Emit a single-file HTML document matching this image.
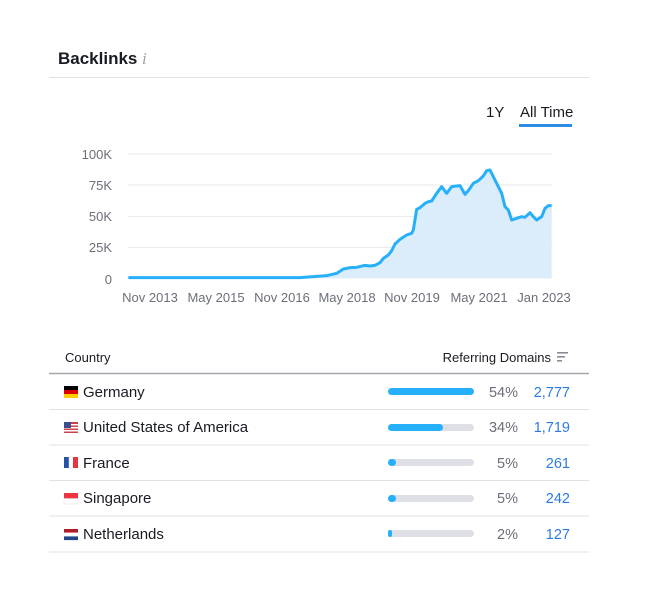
<!DOCTYPE html>
<html><head><meta charset="utf-8"><style>
body{margin:0;background:#fff;width:649px;height:590px;overflow:hidden;font-family:"Liberation Sans",sans-serif}
</style></head><body>
<svg width="649" height="590" xmlns="http://www.w3.org/2000/svg" font-family="Liberation Sans, sans-serif">
<text x="58" y="64" font-size="17" font-weight="bold" fill="#191b23">Backlinks</text>
<text x="142" y="64" font-size="17" fill="#a0a3ab" font-style="italic" font-family="Liberation Serif, serif">i</text>
<line x1="49" y1="77.5" x2="589" y2="77.5" stroke="#e0e1e6"/>
<text x="486" y="117" font-size="15" fill="#191b23">1Y</text>
<text x="520" y="117" font-size="15" fill="#191b23">All Time</text>
<rect x="519" y="124" width="53" height="3" fill="#2c8ce6"/>
<g stroke="#e8eaee" stroke-width="1">
<line x1="128" y1="154" x2="552" y2="154"/><line x1="128" y1="185" x2="552" y2="185"/>
<line x1="128" y1="216.5" x2="552" y2="216.5"/><line x1="128" y1="247.5" x2="552" y2="247.5"/>
</g>
<g font-size="13" fill="#6c6e79" text-anchor="end">
<text x="112" y="159">100K</text><text x="112" y="190">75K</text><text x="112" y="221">50K</text><text x="112" y="252">25K</text><text x="112" y="284">0</text>
</g>
<g font-size="13" fill="#6c6e79" text-anchor="middle">
<text x="150" y="302">Nov 2013</text><text x="216" y="302">May 2015</text><text x="282" y="302">Nov 2016</text><text x="347" y="302">May 2018</text><text x="412" y="302">Nov 2019</text><text x="479" y="302">May 2021</text><text x="544" y="302">Jan 2023</text>
</g>
<g transform="translate(60,140) scale(0.33333)">
<path d="M205,413 L720,413 760,410 800,407 830,400 850,387 870,383 890,382 915,376 930,378 945,376 960,368 970,355 985,345 995,332 1005,312 1020,298 1040,285 1055,280 1060,270 1070,208 1080,203 1095,190 1105,185 1115,183 1130,160 1145,140 1160,160 1175,140 1190,138 1200,137 1215,163 1225,152 1240,130 1255,122 1270,108 1280,92 1290,90 1300,110 1315,140 1325,160 1335,200 1345,210 1355,240 1370,235 1385,230 1395,232 1410,218 1420,230 1430,240 1445,230 1455,205 1465,197 1475,197 L1475,415 L205,415 Z" fill="#dbecfa"/>
<path d="M205,413 L720,413 760,410 800,407 830,400 850,387 870,383 890,382 915,376 930,378 945,376 960,368 970,355 985,345 995,332 1005,312 1020,298 1040,285 1055,280 1060,270 1070,208 1080,203 1095,190 1105,185 1115,183 1130,160 1145,140 1160,160 1175,140 1190,138 1200,137 1215,163 1225,152 1240,130 1255,122 1270,108 1280,92 1290,90 1300,110 1315,140 1325,160 1335,200 1345,210 1355,240 1370,235 1385,230 1395,232 1410,218 1420,230 1430,240 1445,230 1455,205 1465,197 1475,197" fill="none" stroke="#27b0fa" stroke-width="9" stroke-linejoin="round"/>
</g>
<text x="65" y="362" font-size="13" fill="#191b23">Country</text>
<text x="551" y="362" font-size="13" fill="#191b23" text-anchor="end">Referring Domains</text>
<g fill="#8a8d96"><rect x="557" y="352" width="11" height="1.6"/><rect x="557" y="356" width="8" height="1.6"/><rect x="557" y="360" width="5" height="1.6"/></g>
<line x1="49" y1="373.5" x2="589" y2="373.5" stroke="#a5a7ad" stroke-width="1.5"/>
<g stroke="#e0e1e6"><line x1="49" y1="409.5" x2="589" y2="409.5"/><line x1="49" y1="445" x2="589" y2="445"/><line x1="49" y1="480.5" x2="589" y2="480.5"/><line x1="49" y1="516" x2="589" y2="516"/><line x1="49" y1="552" x2="589" y2="552"/></g>
<rect x="64" y="386" width="14" height="4" fill="#000"/><rect x="64" y="390" width="14" height="4" fill="#dd0000"/><rect x="64" y="394" width="14" height="4" fill="#ffce00"/>
<rect x="64" y="422" width="14" height="11" fill="#c9414b"/><rect x="64" y="424" width="14" height="1.5" fill="#fff"/><rect x="64" y="427" width="14" height="1.5" fill="#fff"/><rect x="64" y="430" width="14" height="1.5" fill="#fff"/><rect x="64" y="422" width="7" height="6" fill="#3b4d8c"/>
<rect x="64" y="457" width="5" height="11" fill="#2453a6"/><rect x="69" y="457" width="4" height="11" fill="#fff" stroke="#ddd" stroke-width="0.5"/><rect x="73" y="457" width="5" height="11" fill="#e0383e"/>
<rect x="64" y="493" width="14" height="5.5" fill="#ef3340"/><rect x="64" y="498.5" width="14" height="5.5" fill="#fff" stroke="#ddd" stroke-width="0.5"/>
<rect x="64" y="529" width="14" height="3.7" fill="#ae1c28"/><rect x="64" y="532.7" width="14" height="3.7" fill="#fff"/><rect x="64" y="536.4" width="14" height="3.7" fill="#21468b"/>
<g font-size="15" fill="#191b23">
<text x="83" y="397">Germany</text><text x="83" y="432">United States of America</text><text x="83" y="468">France</text><text x="83" y="503">Singapore</text><text x="83" y="539">Netherlands</text>
</g>
<g fill="#dfe0e6"><rect x="388" y="388" width="86" height="7" rx="3.5"/><rect x="388" y="424" width="86" height="7" rx="3.5"/><rect x="388" y="459" width="86" height="7" rx="3.5"/><rect x="388" y="495" width="86" height="7" rx="3.5"/><rect x="388" y="530" width="86" height="7" rx="3.5"/></g>
<g fill="#27b0fa"><rect x="388" y="388" width="86" height="7" rx="3.5"/><rect x="388" y="424" width="55" height="7" rx="3.5"/><rect x="388" y="459" width="8" height="7" rx="3.5"/><rect x="388" y="495" width="8" height="7" rx="3.5"/><rect x="388" y="530" width="4" height="7" rx="2"/></g>
<g font-size="14.5" fill="#6c6e79" text-anchor="end">
<text x="518" y="397">54%</text><text x="518" y="432">34%</text><text x="518" y="468">5%</text><text x="518" y="503">5%</text><text x="518" y="539">2%</text>
</g>
<g font-size="14.5" fill="#2c7be5" text-anchor="end">
<text x="570" y="397">2,777</text><text x="570" y="432">1,719</text><text x="570" y="468">261</text><text x="570" y="503">242</text><text x="570" y="539">127</text>
</g>
</svg>
</body></html>
